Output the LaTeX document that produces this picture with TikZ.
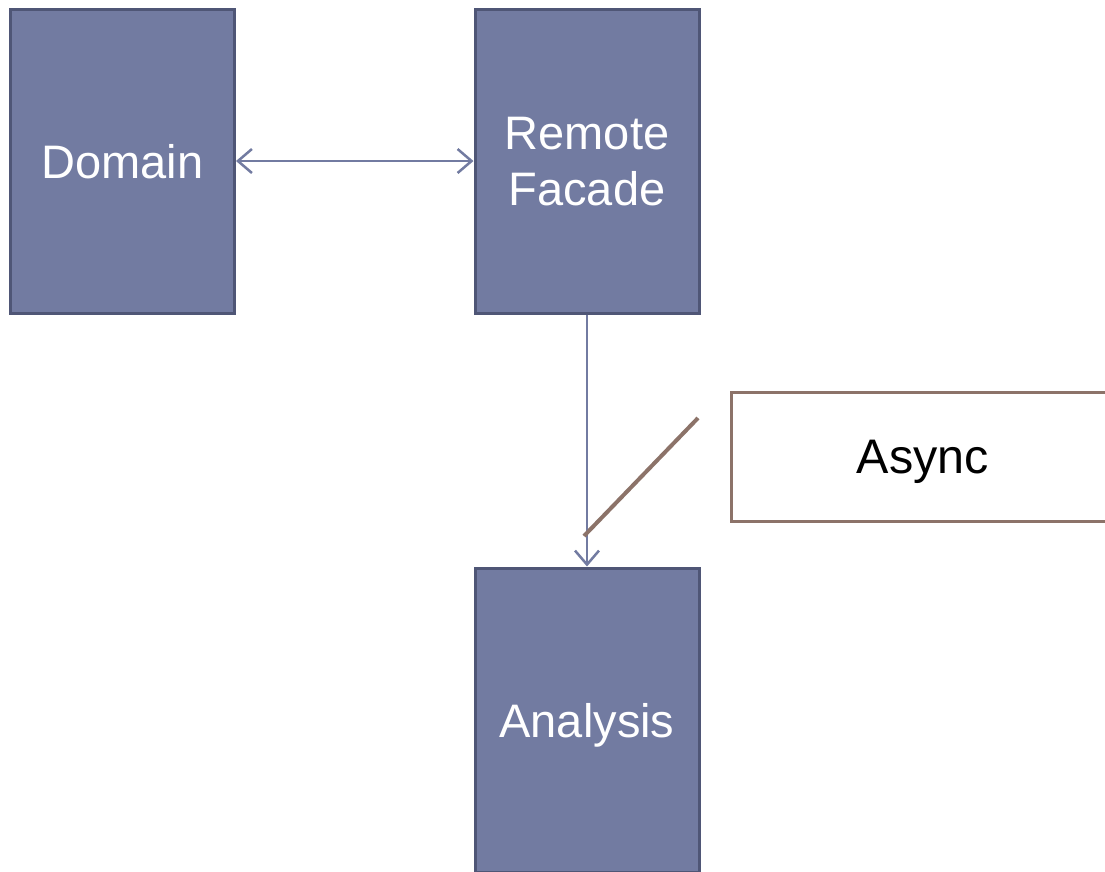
\documentclass[tikz,border=0pt]{standalone}
\usepackage{fontspec}
\setmainfont{Liberation Sans}
\usetikzlibrary{arrows.meta}
\definecolor{boxfill}{RGB}{114,123,161}
\definecolor{boxline}{RGB}{79,86,118}
\definecolor{linkcol}{RGB}{114,123,161}
\definecolor{notecol}{RGB}{140,115,105}
\tikzset{
  comp/.style={draw=boxline, fill=boxfill, line width=3pt, minimum width=224pt,
    minimum height=304pt, inner sep=0pt, text=white, align=center, text depth=0pt,
    font=\fontsize{47pt}{56pt}\selectfont},
  note/.style={draw=notecol, fill=white, line width=3pt, minimum width=384pt,
    minimum height=129pt, inner sep=0pt, text=black, text depth=0pt,
    font=\fontsize{48.5pt}{58pt}\selectfont},
  link/.style={draw=linkcol, line width=2.5pt,
    arrows={Straight Barb[length=14pt,width=24pt,line width=2.5pt]-Straight Barb[length=14pt,width=24pt,line width=2.5pt]}},
  linkto/.style={draw=linkcol, line width=2.5pt,
    -{Straight Barb[length=14pt,width=24pt,line width=2.5pt]}},
  callout/.style={draw=notecol, line width=4pt}
}
\begin{document}
\begin{tikzpicture}[x=1pt,y=-1pt]
  \useasboundingbox (0,0) rectangle (1105,871);
  \clip (0,0) rectangle (1105,871);
  \fill[white] (0,0) rectangle (1105,871);
  % components
  \node[comp] (domain) at (122.5,161) {Domain};
  \node[comp] (facade) at (587,161) {Remote\\Facade};
  \node[comp] (analysis) at (587,720) {Analysis};
  % note and its callout line
  \node[note] (async) at (923,457) {Async};
  \coordinate (tip) at (584,536);
  \coordinate (tail) at (698,418);
  % connectors
  \draw[link] (domain.east) -- (facade.west);
  \draw[linkto] (facade.south) -- (analysis.north);
  \draw[callout] (tail) -- (tip);
\end{tikzpicture}
\end{document}
